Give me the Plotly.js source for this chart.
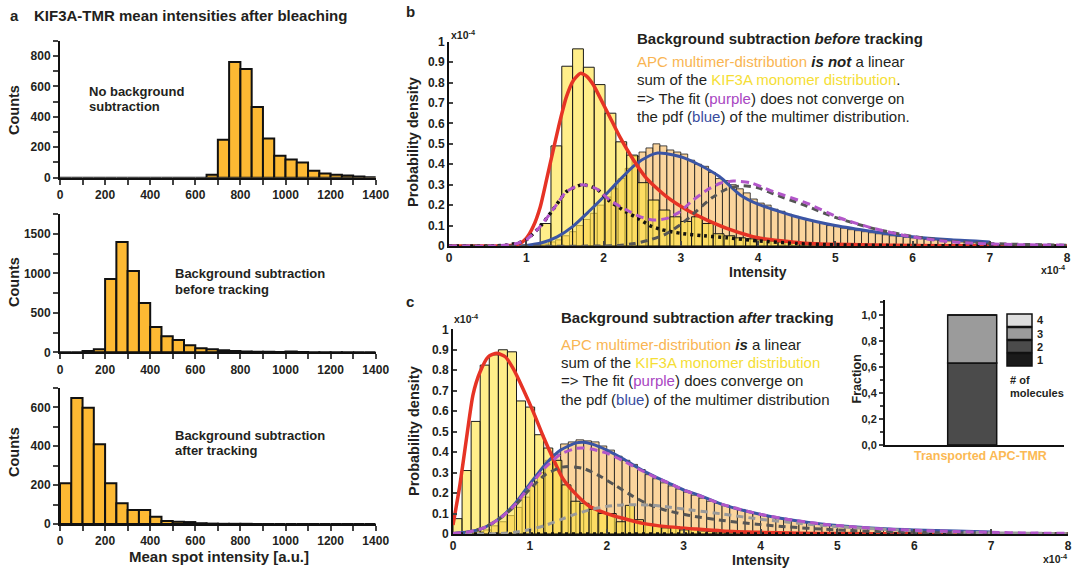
<!DOCTYPE html>
<html><head><meta charset="utf-8">
<script src="https://cdn.plot.ly/plotly-3.0.1.min.js"></script>
<style>html,body{margin:0;padding:0;background:#fff}#chart{width:1077px;height:568px}</style>
</head><body><div id="chart"></div>
<script>
// ---------------- DATA ----------------
// Panel a: histogram bins (left edges, width) and counts
const aBinWidth = 50;
const aBinStarts = [0,50,100,150,200,250,300,350,400,450,500,550,600,650,700,750,800,850,900,950,1000,1050,1100,1150,1200,1250,1300,1350];
const countsNoBg   = [0,0,0,0,0,0,0,0,0,0,0,0,0,20,250,760,715,465,258,145,120,100,45,28,20,14,8,3];
const countsBefore = [0,0,15,40,930,1400,1030,625,320,205,155,90,50,40,25,15,10,8,6,5,10,4,2,2,1,1,0,0];
const countsAfter  = [210,648,598,410,210,107,72,72,37,16,11,10,4,2,1,1,1,0,0,0,0,0,0,0,0,0,0,0];

// Panel b: histograms (probability density, x in units of 1e-4)
const bMonoStart = 1.18, bMonoWidth = 0.14;
const bMono = [0.11,0.49,0.88,0.965,0.875,0.79,0.65,0.51,0.445,0.31,0.225,0.176,0.143,0.12,0.143,0.11,0.06,0.05,0.04,0.035,0.03,0.025,0.02,0.018,0.015,0.012,0.01,0.008,0.006,0.005];
const bMultStart = 1.2, bMultWidth = 0.09;
const bMult = [0.01,0.02,0.03,0.05,0.07,0.1,0.13,0.16,0.2,0.24,0.28,0.33,0.38,0.44,0.46,0.48,0.5,0.49,0.47,0.46,0.45,0.42,0.4,0.39,0.36,0.33,0.32,0.3,0.28,0.26,0.23,0.21,0.2,0.18,0.17,0.155,0.145,0.135,0.125,0.12,0.11,0.1,0.095,0.088,0.08,0.075,0.07,0.065,0.06,0.055,0.05,0.047,0.043,0.04,0.036,0.033,0.03,0.028,0.025,0.022,0.02,0.018,0.016,0.014,0.012];
// Panel b: curves
const bRedX = [0,0.5,0.8,0.92,1.0,1.09,1.18,1.26,1.35,1.44,1.52,1.61,1.7,1.78,1.87,1.95,2.08,2.21,2.39,2.56,2.82,3.08,3.34,3.68,4.0,4.6,5.0,6.0,7.0,8.0];
const bRedY = [0,0,0.002,0.013,0.037,0.095,0.19,0.32,0.47,0.617,0.73,0.81,0.845,0.832,0.788,0.73,0.633,0.535,0.42,0.33,0.24,0.176,0.127,0.075,0.04,0.014,0.008,0.002,0.001,0];
const bBlueX = [0.9,1.0,1.2,1.4,1.6,1.8,2.0,2.2,2.4,2.6,2.7,2.8,3.0,3.2,3.5,3.77,4.0,4.5,5.0,5.5,6.0,6.5,7.0];
const bBlueY = [0,0.003,0.016,0.045,0.095,0.165,0.24,0.32,0.395,0.443,0.455,0.453,0.437,0.405,0.34,0.25,0.205,0.143,0.1,0.07,0.045,0.03,0.02];
const bFitX = [0,0.6,0.75,0.9,1.0,1.18,1.35,1.52,1.72,1.91,2.08,2.3,2.47,2.64,2.82,2.99,3.16,3.34,3.51,3.68,3.9,4.2,4.63,5.06,5.49,5.92,6.35,6.78,7.3,8.0];
const bFitY = [0,0,0.005,0.015,0.03,0.095,0.18,0.266,0.3,0.28,0.225,0.176,0.144,0.127,0.135,0.168,0.225,0.274,0.307,0.318,0.31,0.266,0.21,0.137,0.087,0.05,0.026,0.013,0.007,0.004];
const bOneX = [0,0.6,0.75,0.9,1.0,1.18,1.35,1.52,1.72,1.91,2.08,2.3,2.45,2.6,2.75,3.0,3.3,3.6,4.0,4.5,5.0,6.0,8.0];
const bOneY = [0,0,0.005,0.015,0.03,0.095,0.18,0.266,0.3,0.28,0.22,0.165,0.135,0.1,0.08,0.062,0.05,0.04,0.025,0.012,0.006,0.002,0];
const bTwoX = [0,2.0,2.2,2.4,2.6,2.8,3.0,3.2,3.4,3.6,3.8,4.0,4.2,4.6,5.0,5.5,6.0,6.5,7.0,8.0];
const bTwoY = [0,0,0.003,0.012,0.03,0.057,0.105,0.17,0.235,0.28,0.295,0.285,0.255,0.2,0.14,0.085,0.047,0.024,0.012,0.004];

// Panel c: histograms
const cMonoStart = 0, cMonoWidth = 0.118;
const cMono = [0.075,0.31,0.55,0.825,0.875,0.9,0.89,0.65,0.62,0.485,0.42,0.36,0.24,0.16,0.15,0.12,0.1,0.1,0.06,0.14,0.07,0.05,0.04,0.03,0.035,0.02,0.025,0.015,0.012,0.01,0.008,0.006,0.005,0.004,0.003];
const cMultStart = 0, cMultWidth = 0.1;
const cMult = [0.002,0.003,0.006,0.012,0.02,0.04,0.06,0.09,0.13,0.18,0.24,0.3,0.36,0.39,0.44,0.45,0.46,0.455,0.45,0.43,0.41,0.38,0.36,0.34,0.315,0.29,0.27,0.25,0.235,0.22,0.205,0.19,0.175,0.16,0.15,0.14,0.13,0.12,0.11,0.1,0.092,0.085,0.078,0.072,0.066,0.06,0.056,0.051,0.047,0.043,0.04,0.037,0.034,0.031,0.029,0.027,0.025,0.023,0.021,0.02,0.018,0.017,0.016,0.015,0.014,0.013,0.012,0.011,0.01,0.009];
// Panel c: curves
const cRedX = [0,0.09,0.18,0.26,0.35,0.46,0.57,0.68,0.78,0.91,1.04,1.17,1.3,1.43,1.61,1.78,2.0,2.21,2.47,2.78,3.17,3.5,4.0,4.5,5.0,6.0,7.0,8.0];
const cRedY = [0.044,0.24,0.48,0.68,0.79,0.866,0.883,0.866,0.81,0.71,0.6,0.48,0.37,0.27,0.19,0.134,0.1,0.077,0.052,0.036,0.024,0.015,0.008,0.004,0.002,0.001,0,0];
const cBlueX = [0,0.2,0.4,0.6,0.8,1.0,1.2,1.4,1.6,1.7,1.8,2.0,2.2,2.4,2.6,2.8,3.0,3.2,3.5,3.95,4.38,4.82,5.2,5.68,6.0,6.55,7.0];
const cBlueY = [0.003,0.01,0.03,0.075,0.145,0.245,0.34,0.41,0.445,0.448,0.44,0.41,0.37,0.325,0.285,0.25,0.215,0.19,0.145,0.1,0.07,0.048,0.036,0.024,0.02,0.015,0.01];
const cFitX = [0,0.2,0.4,0.6,0.8,1.0,1.2,1.4,1.6,1.7,1.8,2.0,2.2,2.4,2.6,2.8,3.0,3.2,3.5,3.95,4.38,4.82,5.2,5.68,6.0,6.55,7.0,7.5,8.0];
const cFitY = [0.002,0.01,0.03,0.073,0.14,0.235,0.325,0.39,0.418,0.42,0.415,0.395,0.36,0.32,0.283,0.25,0.215,0.188,0.145,0.1,0.07,0.048,0.035,0.023,0.018,0.012,0.008,0.005,0.003];
const cOneX = [0,8];
const cOneY = [0,0];
const cTwoX = [0,0.2,0.4,0.6,0.8,1.0,1.2,1.4,1.5,1.7,1.9,2.1,2.35,2.56,2.78,3.08,3.51,3.95,4.38,4.8,5.5,6.0,7.0,8.0];
const cTwoY = [0.002,0.01,0.03,0.072,0.135,0.22,0.29,0.325,0.33,0.32,0.285,0.24,0.182,0.142,0.115,0.09,0.066,0.048,0.034,0.024,0.012,0.008,0.003,0.001];
const cThreeX = [0,0.6,0.8,1.0,1.2,1.4,1.6,1.8,2.0,2.2,2.4,2.6,2.8,3.0,3.5,4.0,4.5,5.0,5.5,6.0,6.5,7.0,8.0];
const cThreeY = [0,0.002,0.008,0.022,0.042,0.07,0.098,0.12,0.135,0.142,0.143,0.14,0.132,0.122,0.098,0.072,0.052,0.036,0.025,0.016,0.01,0.006,0.002];

// Inset: fraction of molecules
const insetCategory = ['Transported APC-TMR'];
const moleculeNumbers = ['1','2','3','4'];
const moleculeFractions = [0, 0.63, 0.37, 0];
const insetTickVals = [0,0.2,0.4,0.6,0.8,1.0];
const insetTickText = ['0,0','0,2','0,4','0,6','0,8','1,0'];

// ---------------- STYLE / LAYOUT ----------------
const W = 1077, H = 568;
const X = v => v / W, Y = v => 1 - v / H;
const FONT = 'Liberation Sans, Arial, Helvetica, sans-serif';
const INK = '#231f20';
const ORANGE_TXT = '#F9B552', YELLOW_TXT = '#F5DE35', PURPLE_TXT = '#A845C2', BLUE_TXT = '#3A4DA0';
const molColors = ['#1a1a1a', '#4b4b4b', '#9b9b9b', '#dedede'];

const centers = (start, width, n) => Array.from({length: n}, (_, i) => start + width * (i + 0.5));

const traces = [];
function histA(counts, xa, ya) {
  traces.push({type: 'bar', x: aBinStarts.map(s => s + aBinWidth / 2), y: counts, width: aBinWidth,
    marker: {color: '#FDB933', line: {color: '#111', width: 2}}, xaxis: xa, yaxis: ya, hoverinfo: 'skip', showlegend: false});
}
histA(countsNoBg, 'x', 'y');
histA(countsBefore, 'x2', 'y2');
histA(countsAfter, 'x3', 'y3');

function histPair(multStart, multW, mult, monoStart, monoW, mono, xa, ya) {
  traces.push({type: 'bar', x: centers(multStart, multW, mult.length), y: mult, width: multW,
    marker: {color: 'rgba(250,206,140,0.85)', line: {color: '#1a1a1a', width: 0.8}}, xaxis: xa, yaxis: ya, hoverinfo: 'skip', showlegend: false});
  traces.push({type: 'bar', x: centers(monoStart, monoW, mono.length), y: mono, width: monoW,
    marker: {color: 'rgba(255,226,60,0.6)', line: {color: '#1a1a1a', width: 1}}, xaxis: xa, yaxis: ya, hoverinfo: 'skip', showlegend: false});
}
histPair(bMultStart, bMultWidth, bMult, bMonoStart, bMonoWidth, bMono, 'x4', 'y4');
histPair(cMultStart, cMultWidth, cMult, cMonoStart, cMonoWidth, cMono, 'x5', 'y5');

function curve(x, y, color, width, dash, xa, ya) {
  traces.push({type: 'scatter', mode: 'lines', x: x, y: y, xaxis: xa, yaxis: ya, hoverinfo: 'skip', showlegend: false,
    line: {color: color, width: width, dash: dash, shape: 'spline', smoothing: 0.6}});
}
// panel b curves
curve(bBlueX, bBlueY, '#3B55A5', 3, 'solid', 'x4', 'y4');
curve(bRedX, bRedY, '#E63325', 3.5, 'solid', 'x4', 'y4');
curve(bOneX, bOneY, '#111111', 3.5, '3px,4px', 'x4', 'y4');
curve(bTwoX, bTwoY, '#555555', 3, '7px,5px', 'x4', 'y4');
curve(bFitX, bFitY, '#B256C9', 3, '8px,5px', 'x4', 'y4');
// panel c curves
curve(cBlueX, cBlueY, '#3B55A5', 3, 'solid', 'x5', 'y5');
curve(cRedX, cRedY, '#E63325', 3.5, 'solid', 'x5', 'y5');
curve(cOneX, cOneY, '#111111', 3.5, '3px,4px', 'x5', 'y5');
curve(cTwoX, cTwoY, '#555555', 3, '7px,5px', 'x5', 'y5');
curve(cThreeX, cThreeY, '#9a9a9a', 3, '7px,5px', 'x5', 'y5');
curve(cFitX, cFitY, '#B256C9', 3, '8px,5px', 'x5', 'y5');

// inset stacked bar
let acc = 0;
moleculeNumbers.forEach((m, i) => {
  traces.push({type: 'bar', x: insetCategory, y: [moleculeFractions[i]], base: [acc], width: 0.6,
    marker: {color: molColors[i], line: {color: '#111', width: 1.5}}, xaxis: 'x6', yaxis: 'y6', hoverinfo: 'skip', showlegend: false, name: m});
  acc += moleculeFractions[i];
});

const tickA = {family: FONT, size: 12, color: INK, weight: 'bold'};
const tickB = {family: FONT, size: 12, color: INK, weight: 'bold'};
function axAx(dom, anchor) {
  return {domain: dom, anchor: anchor, range: [0, 1400], dtick: 200, tick0: 0, ticks: 'outside', ticklen: 5, tickwidth: 2,
    minor: {dtick: 100, ticks: 'outside', ticklen: 5, tickwidth: 2}, showline: true, linewidth: 2, linecolor: '#111',
    showgrid: false, zeroline: false, tickfont: tickA, fixedrange: true};
}
function ayAx(dom, anchor, top, dt) {
  return {domain: dom, anchor: anchor, range: [0, top], dtick: dt, tick0: 0, ticks: 'outside', ticklen: 5, tickwidth: 2,
    minor: {dtick: dt / 2, ticks: 'outside', ticklen: 5, tickwidth: 2}, showline: true, linewidth: 2, linecolor: '#111',
    showgrid: false, zeroline: false, tickfont: tickA, fixedrange: true};
}
function bxAx(dom, anchor) {
  return {domain: dom, anchor: anchor, range: [0, 8], dtick: 1, ticks: 'inside', ticklen: 5, tickwidth: 2,
    showline: true, linewidth: 2, linecolor: '#111', showgrid: false, zeroline: false, tickfont: tickB, fixedrange: true};
}
function byAx(dom, anchor) {
  return {domain: dom, anchor: anchor, range: [0, 1], dtick: 0.1, ticks: 'inside', ticklen: 4, tickwidth: 2,
    showline: true, linewidth: 2, linecolor: '#111', showgrid: false, zeroline: false, tickfont: tickB, fixedrange: true};
}

function ann(text, x, y, o) {
  o = o || {};
  return Object.assign({text: text, x: X(x), y: Y(y), xref: 'paper', yref: 'paper', showarrow: false,
    xanchor: 'left', yanchor: 'middle', font: {family: FONT, size: 15, color: INK}}, o);
}
const boldF = s => ({family: FONT, size: s, color: INK, weight: 'bold'});
const annotations = [
  ann('<b>a</b>', 8, 16, {font: boldF(15)}),
  ann('<b>KIF3A-TMR mean intensities after bleaching</b>', 32, 16, {font: boldF(15)}),
  ann('<b>b</b>', 404, 12, {font: boldF(15)}),
  ann('<b>c</b>', 404, 301, {font: boldF(15)}),
  ann('<b>No background</b>', 86.5, 91.7, {font: boldF(13)}),
  ann('<b>subtraction</b>', 86.5, 106.7, {font: boldF(13)}),
  ann('<b>Background subtraction</b>', 172.5, 273.3, {font: boldF(13)}),
  ann('<b>before tracking</b>', 172.5, 289, {font: boldF(13)}),
  ann('<b>Background subtraction</b>', 172.5, 435, {font: boldF(13)}),
  ann('<b>after tracking</b>', 172.5, 450.7, {font: boldF(13)}),
  // axis titles
  ann('<b>Counts</b>', 14, 110, {textangle: -90, xanchor: 'center', font: boldF(14.5)}),
  ann('<b>Counts</b>', 14, 282, {textangle: -90, xanchor: 'center', font: boldF(14.5)}),
  ann('<b>Counts</b>', 14, 452, {textangle: -90, xanchor: 'center', font: boldF(14.5)}),
  ann('<b>Mean spot intensity [a.u.]</b>', 219, 556.5, {xanchor: 'center', font: boldF(15)}),
  ann('<b>Probability density</b>', 413, 142, {textangle: -90, xanchor: 'center', font: boldF(14.5)}),
  ann('<b>Probability density</b>', 414, 431, {textangle: -90, xanchor: 'center', font: boldF(14.5)}),
  ann('<b>Intensity</b>', 758, 272, {xanchor: 'center', font: boldF(14)}),
  ann('<b>Intensity</b>', 761, 559.5, {xanchor: 'center', font: boldF(14)}),
  ann('<b>x10<sup>-4</sup></b>', 449, 34, {font: boldF(10.5)}),
  ann('<b>x10<sup>-4</sup></b>', 452, 318, {font: boldF(10.5)}),
  ann('<b>x10<sup>-4</sup></b>', 1068, 270, {xanchor: 'right', font: boldF(10.5)}),
  ann('<b>x10<sup>-4</sup></b>', 1070, 558, {xanchor: 'right', font: boldF(10.5)}),
  // panel b text
  ann('<b>Background subtraction <i>before</i> tracking</b>', 635, 38.5, {font: boldF(15)}),
  ann('<span style="color:' + ORANGE_TXT + '">APC multimer-distribution</span> <b><i>is not</i></b> a linear', 635, 61),
  ann('sum of the <span style="color:' + YELLOW_TXT + '">KIF3A monomer distribution</span>.', 635, 79.5),
  ann('=> The fit (<span style="color:' + PURPLE_TXT + '">purple</span>) does not converge on', 635, 98),
  ann('the pdf (<span style="color:' + BLUE_TXT + '">blue</span>) of the multimer distribution.', 635, 116.5),
  // panel c text
  ann('<b>Background subtraction <i>after</i> tracking</b>', 559, 317.3, {font: boldF(15)}),
  ann('<span style="color:' + ORANGE_TXT + '">APC multimer-distribution</span> <b><i>is</i></b> a linear', 559, 344),
  ann('sum of the <span style="color:' + YELLOW_TXT + '">KIF3A monomer distribution</span>', 559, 362.3),
  ann('=> The fit (<span style="color:' + PURPLE_TXT + '">purple</span>) does converge on', 559, 380.5),
  ann('the pdf (<span style="color:' + BLUE_TXT + '">blue</span>) of the multimer distribution', 559, 399),
  // inset texts
  ann('<b>Fraction</b>', 856.5, 379, {textangle: -90, xanchor: 'center', font: boldF(12.5)}),
  ann('<b>Transported APC-TMR</b>', 980, 455.5, {xanchor: 'center', font: {family: FONT, size: 12.5, color: '#FBB954', weight: 'bold'}}),
  ann('<b># of</b>', 1008, 380, {font: boldF(11)}),
  ann('<b>molecules</b>', 1008, 393.3, {font: boldF(11)}),
];
// legend boxes for # of molecules (top: 4 ... bottom: 1)
const legendRows = [[314, 326.5], [327.5, 339.5], [340.5, 352.5], [353.5, 366]];
const shapes = [];
[3, 2, 1, 0].forEach((idx, r) => {
  const [t, b] = legendRows[r];
  shapes.push({type: 'rect', xref: 'paper', yref: 'paper', x0: X(1007), x1: X(1032), y0: Y(b), y1: Y(t),
    fillcolor: molColors[idx], line: {color: '#111', width: 1.5}});
  annotations.push(ann('<b>' + moleculeNumbers[idx] + '</b>', 1035, (t + b) / 2, {font: boldF(11)}));
});

const layout = {
  width: W, height: H, margin: {l: 0, r: 0, t: 0, b: 0}, paper_bgcolor: '#fff', plot_bgcolor: 'rgba(0,0,0,0)',
  barmode: 'overlay', bargap: 0, showlegend: false, font: {family: FONT, color: INK},
  xaxis: axAx([X(60), X(375.7)], 'y'),
  yaxis: ayAx([Y(177.7), Y(40.8)], 'x', 900, 200),
  xaxis2: axAx([X(60), X(375.7)], 'y2'),
  yaxis2: ayAx([Y(352.3), Y(214.3)], 'x2', 1750, 500),
  xaxis3: axAx([X(60), X(375.7)], 'y3'),
  yaxis3: ayAx([Y(524), Y(388)], 'x3', 700, 200),
  xaxis4: bxAx([X(449), X(1067)], 'y4'),
  yaxis4: byAx([Y(246), Y(41.7)], 'x4'),
  xaxis5: bxAx([X(453), X(1068)], 'y5'),
  yaxis5: byAx([Y(534), Y(329.3)], 'x5'),
  xaxis6: {domain: [X(885), X(1064.3)], anchor: 'y6', type: 'category', range: [-1.0675, 1.1276], showline: true,
    linewidth: 2, linecolor: '#111', ticks: '', showticklabels: false, showgrid: false, zeroline: false, fixedrange: true},
  yaxis6: {domain: [Y(445), Y(300)], anchor: 'x6', range: [0, 1.115], tickmode: 'array', tickvals: insetTickVals, ticktext: insetTickText,
    ticks: 'outside', ticklen: 4, tickwidth: 2, minor: {tickmode: 'linear', tick0: 0.1, dtick: 0.2, ticks: 'outside', ticklen: 3, tickwidth: 1.5},
    showline: true, linewidth: 2, linecolor: '#111', showgrid: false, zeroline: false,
    tickfont: {family: FONT, size: 11, color: INK, weight: 'bold'}, fixedrange: true},
  annotations: annotations,
  shapes: shapes
};

Plotly.newPlot('chart', traces, layout, {staticPlot: true, displayModeBar: false});
</script></body></html>
